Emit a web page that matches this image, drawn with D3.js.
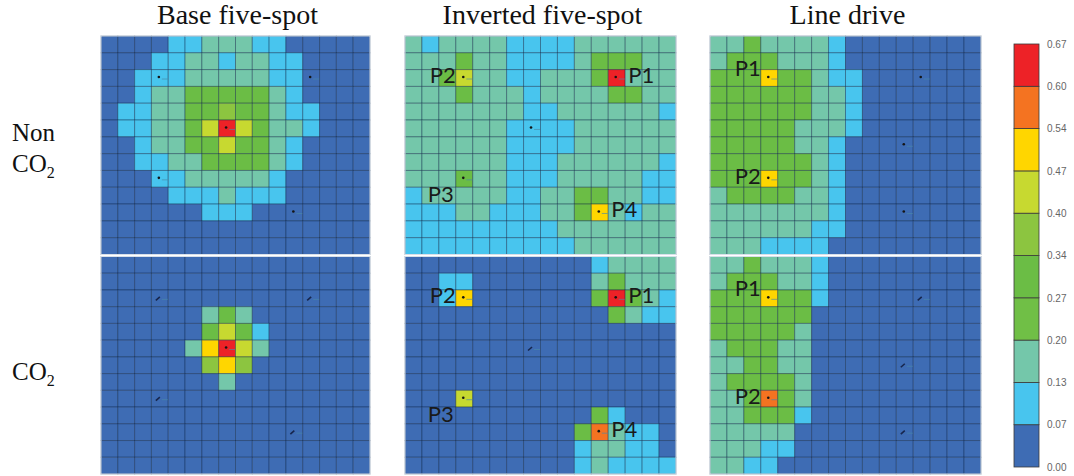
<!DOCTYPE html>
<html><head><meta charset="utf-8">
<script src="https://cdn.jsdelivr.net/npm/d3@7"></script>
<style>body{margin:0;background:#fff}</style>
</head><body>
<svg id="chart" width="1074" height="476"></svg>
<script>
// Column titles (well patterns) and row labels (injection case)
const scenarios = ["Base five-spot", "Inverted five-spot", "Line drive"];
const cases = [["Non", "CO", "2"], ["CO", "2"]];

// Saturation classes shown by the colour bar
const binEdges = [0.00, 0.07, 0.13, 0.20, 0.27, 0.34, 0.40, 0.47, 0.54, 0.60, 0.67];
const tickLabels = ["0.00", "0.07", "0.13", "0.20", "0.27", "0.34", "0.40", "0.47", "0.54", "0.60", "0.67"];
const binColors = ["#3e6cb4", "#48c5ee", "#74c7aa", "#70bf46", "#6bbd45", "#8cc540", "#c7d930", "#ffd600", "#f47321", "#ed2227"];
// Representative saturation of each class code used in the grids below
const classValues = [0.03, 0.10, 0.17, 0.24, 0.30, 0.37, 0.44, 0.50, 0.57, 0.64];

// Grid blocks: 13 rows x 16 columns, one class code per cell
const baseNon = [
  "0000112221100000",
  "0001122122110000",
  "0011122222110000",
  "0012244444210000",
  "0112244544211000",
  "0112246964221000",
  "0012244644210000",
  "0011224444210000",
  "0001122222100000",
  "0000111211100000",
  "0000001110000000",
  "0000000000000000",
  "0000000000000000"
];
const baseCO2 = [
  "0000000000000000",
  "0000000000000000",
  "0000000000000000",
  "0000002420000000",
  "0000004641000000",
  "0000027962000000",
  "0000005750000000",
  "0000000200000000",
  "0000000000000000",
  "0000000000000000",
  "0000000000000000",
  "0000000000000000",
  "0000000000000000"
];
const invNon = [
  "2122221111222222",
  "2224221111244422",
  "2246221122249222",
  "2224222122224422",
  "2222222112222221",
  "2222221111222222",
  "2222221111222222",
  "2222221112222221",
  "2224221112222211",
  "1222221122442211",
  "1112211122472122",
  "1111111112222222",
  "1111111111222222"
];
const invCO2 = [
  "0000000000012222",
  "0011000000024222",
  "0017000000049421",
  "0000000000004211",
  "0000000000000000",
  "0000000000000000",
  "0000000000000000",
  "0000000000000000",
  "0006000000000000",
  "0000000000041000",
  "0000000000482110",
  "0000000000122110",
  "0000000000121111"
];
const lineNon = [
  "2242222100000000",
  "2444222100000000",
  "4447442110000000",
  "4444442210000000",
  "4444442210000000",
  "4444422210000000",
  "4444422100000000",
  "4444442100000000",
  "4447442100000000",
  "2444422100000000",
  "2222222100000000",
  "2222221100000000",
  "2221111000000000"
];
const lineCO2 = [
  "2242221000000000",
  "2444221000000000",
  "4447441000000000",
  "4444440000000000",
  "4444420000000000",
  "2444220000000000",
  "2244220000000000",
  "2444420000000000",
  "2248420000000000",
  "2244410000000000",
  "2222200000000000",
  "2221100000000000",
  "2211000000000000"
];

// Wells: grid cell, kind, and optional producer label with its placement
const baseWells = [
  {col: 3, row: 2, kind: "inj"}, {col: 12, row: 2, kind: "inj"},
  {col: 7, row: 5, kind: "prod"},
  {col: 3, row: 8, kind: "inj"}, {col: 11, row: 10, kind: "inj"}
];
const invWells = [
  {col: 3, row: 2, kind: "prod", name: "P2", side: "left"},
  {col: 12, row: 2, kind: "prod", name: "P1", side: "right"},
  {col: 7, row: 5, kind: "inj"},
  {col: 3, row: 8, kind: "prod", name: "P3", side: "belowLeft"},
  {col: 11, row: 10, kind: "prod", name: "P4", side: "right"}
];
const lineWells = [
  {col: 3, row: 2, kind: "prod", name: "P1", side: "upLeft"},
  {col: 3, row: 8, kind: "prod", name: "P2", side: "left"},
  {col: 12, row: 2, kind: "inj"}, {col: 11, row: 6, kind: "inj"},
  {col: 11, row: 10, kind: "inj"}
];

const grids = [[baseNon, baseCO2], [invNon, invCO2], [lineNon, lineCO2]];
const wellSets = [baseWells, invWells, lineWells];

const svg = d3.select("#chart");
const panelX = [[101, 370], [405, 676], [710, 981]];
const panelY = [[36, 254.5], [256.5, 474]];
const color = d3.scaleThreshold().domain(binEdges.slice(1, -1)).range(binColors);

scenarios.forEach((title, s) => {
  svg.append("text")
    .attr("x", (panelX[s][0] + panelX[s][1]) / 2 + 2)
    .attr("y", 24)
    .attr("text-anchor", "middle")
    .attr("font-family", "Liberation Serif, Times New Roman, serif")
    .attr("font-size", 28)
    .attr("fill", "#111")
    .text(title);

  [0, 1].forEach(c => {
    const rows = grids[s][c];
    const x = d3.scaleBand().domain(d3.range(rows[0].length)).range(panelX[s]);
    const y = d3.scaleBand().domain(d3.range(rows.length)).range(panelY[c]);
    const cells = rows.flatMap((r, ri) => r.split("").map((ch, ci) => ({row: ri, col: ci, v: classValues[+ch]})));
    const g = svg.append("g");
    g.selectAll("rect.cell").data(cells).join("rect")
      .attr("class", "cell")
      .attr("x", d => x(d.col)).attr("y", d => y(d.row))
      .attr("width", x.bandwidth()).attr("height", y.bandwidth())
      .attr("fill", d => color(d.v))
      .attr("stroke", "rgba(0,25,60,0.38)")
      .attr("stroke-width", 1);
    g.append("rect")
      .attr("x", panelX[s][0]).attr("y", panelY[c][0])
      .attr("width", panelX[s][1] - panelX[s][0]).attr("height", panelY[c][1] - panelY[c][0])
      .attr("fill", "none").attr("stroke", "#d8e0ea").attr("stroke-width", 1);

    // Well symbols
    wellSets[s].forEach(w => {
      const cx = x(w.col) + x.bandwidth() / 2, cy = y(w.row) + y.bandwidth() / 2;
      if (c === 1 && w.kind === "inj") {
        g.append("line").attr("x1", cx - 4).attr("y1", cy + 2).attr("x2", cx).attr("y2", cy - 1.5)
          .attr("stroke", "#17264d").attr("stroke-width", 1.6);
      } else {
        g.append("circle").attr("cx", cx - 1).attr("cy", cy - 1).attr("r", 1.3).attr("fill", "#151515");
      }
      g.append("line").attr("x1", cx + 2).attr("y1", cy + 1).attr("x2", cx + 8).attr("y2", cy + 1)
        .attr("stroke", "#4a8aa8").attr("stroke-opacity", 0.65).attr("stroke-width", 1);

      if (w.name) {
        const left = x(w.col), right = left + x.bandwidth();
        const top = y(w.row), bottom = top + y.bandwidth();
        let tx, ty, anchor;
        if (w.side === "left") { tx = left; ty = cy + 5; anchor = "end"; }
        else if (w.side === "upLeft") { tx = left; ty = top + 6; anchor = "end"; }
        else if (w.side === "belowLeft") { tx = left - 2; ty = bottom + 15; anchor = "end"; }
        else { tx = right + 3; ty = cy + 5; anchor = "start"; }
        g.append("text").attr("x", tx).attr("y", ty).attr("text-anchor", anchor)
          .attr("font-family", "Lato, Noto Sans, sans-serif").attr("font-size", 22)
          .attr("fill", "#1a1a1a").text(w.name);
      }
    });
  });
});

// Row labels with subscript
const rowBase = [[141, 172], [380]];
const rowText = svg.append("g").attr("font-family", "Liberation Serif, Times New Roman, serif")
  .attr("font-size", 25).attr("fill", "#111");
rowText.append("text").attr("x", 12).attr("y", rowBase[0][0]).text(cases[0][0]);
[[rowBase[0][1], cases[0]], [rowBase[1][0], ["", ...cases[1]]]].forEach(([by, parts]) => {
  const t = rowText.append("text").attr("x", 12).attr("y", by);
  t.append("tspan").text(parts[1]);
  t.append("tspan").attr("dy", 6).attr("font-size", 16).text(parts[2]);
});

// Colour bar
const barY = d3.scaleLinear().domain([0, binColors.length]).range([467, 44]);
const bar = svg.append("g");
bar.selectAll("rect").data(binColors).join("rect")
  .attr("x", 1014).attr("width", 25)
  .attr("y", (d, i) => barY(i + 1)).attr("height", (d, i) => barY(i) - barY(i + 1))
  .attr("fill", d => d).attr("stroke", "#3a3a3a").attr("stroke-width", 0.8);
const axis = d3.axisRight(barY).tickValues(d3.range(tickLabels.length))
  .tickFormat(i => tickLabels[i]).tickSize(0).tickPadding(8);
const ag = svg.append("g").attr("transform", "translate(1039,0)").call(axis);
ag.select(".domain").remove();
ag.selectAll("text").attr("font-family", "Liberation Sans, Arial, sans-serif")
  .attr("font-size", 10).attr("fill", "#666");
</script>
</body></html>
